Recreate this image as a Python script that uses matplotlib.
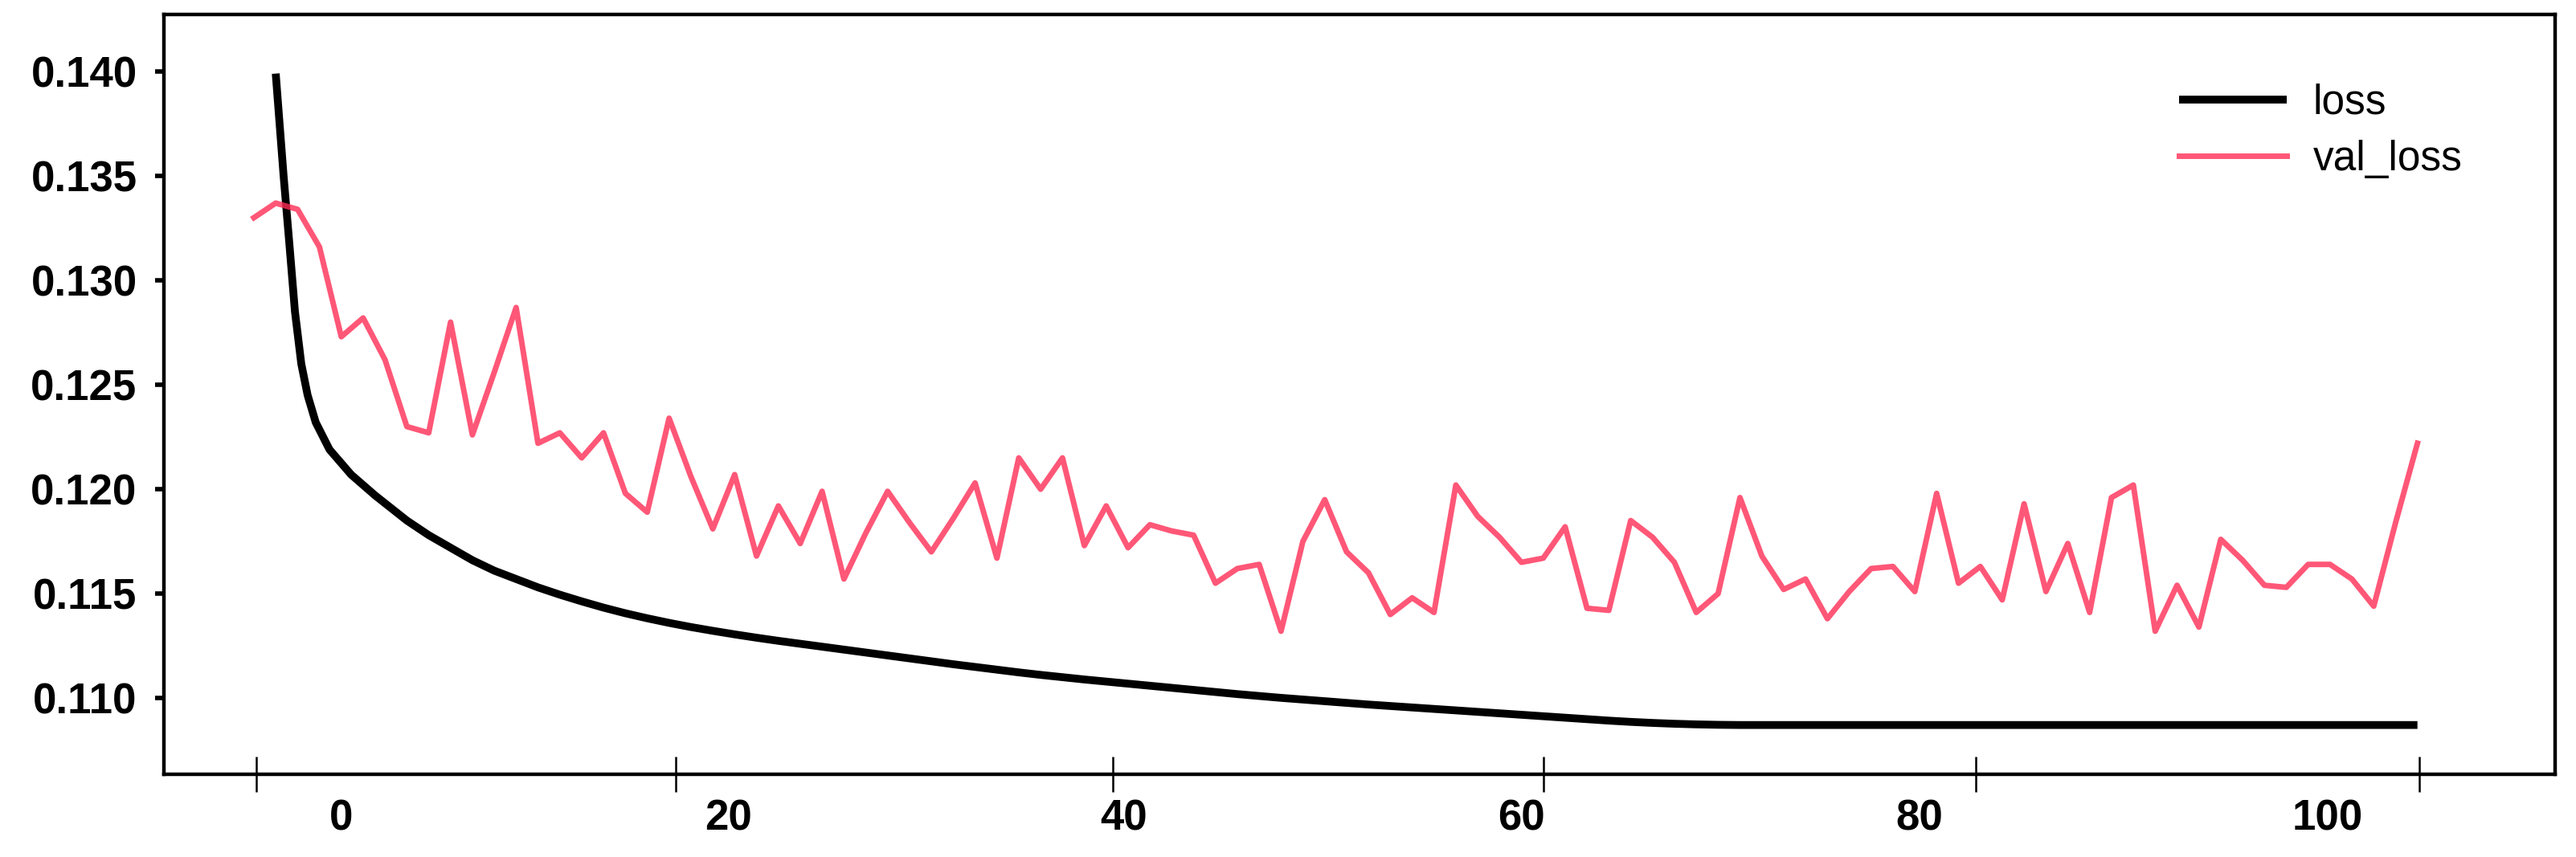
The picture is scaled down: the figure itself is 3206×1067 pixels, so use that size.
import matplotlib.pyplot as plt
import numpy as np

plt.rcParams['font.family'] = ['Liberation Sans', 'DejaVu Sans']

# validation loss, one value per epoch
epochs_val = list(range(0, 100))
val_loss = [0.1330, 0.1337, 0.1334, 0.1316, 0.1273, 0.1282, 0.1262, 0.1230, 0.1227, 0.1280,
            0.1226, 0.1256, 0.1287, 0.1222, 0.1227, 0.1215, 0.1227, 0.1198, 0.1189, 0.1234,
            0.1206, 0.1181, 0.1207, 0.1168, 0.1192, 0.1174, 0.1199, 0.1157, 0.1179, 0.1199,
            0.1184, 0.1170, 0.1186, 0.1203, 0.1167, 0.1215, 0.1200, 0.1215, 0.1173, 0.1192,
            0.1172, 0.1183, 0.1180, 0.1178, 0.1155, 0.1162, 0.1164, 0.1132, 0.1175, 0.1195,
            0.1170, 0.1160, 0.1140, 0.1148, 0.1141, 0.1202, 0.1187, 0.1177, 0.1165, 0.1167,
            0.1182, 0.1143, 0.1142, 0.1185, 0.1177, 0.1165, 0.1141, 0.1150, 0.1196, 0.1168,
            0.1152, 0.1157, 0.1138, 0.1151, 0.1162, 0.1163, 0.1151, 0.1198, 0.1155, 0.1163,
            0.1147, 0.1193, 0.1151, 0.1174, 0.1141, 0.1196, 0.1202, 0.1132, 0.1154, 0.1134,
            0.1176, 0.1166, 0.1154, 0.1153, 0.1164, 0.1164, 0.1157, 0.1144, 0.1184, 0.1222]

# training loss (read more densely over the steep start)
epochs_loss = [1, 1.36, 1.62, 1.88, 2.17, 2.46, 2.83, 3.46, 4.45, 5.55] + list(range(7, 100))
loss = [0.1399, 0.1350, 0.1318, 0.1285, 0.1260, 0.1245, 0.1232, 0.1219, 0.1207, 0.1197,
        0.1185, 0.1178, 0.1172, 0.1166, 0.1161, 0.1157, 0.11530, 0.11495, 0.11463, 0.11433,
        0.11406, 0.11382, 0.11360, 0.11340, 0.11322, 0.11305, 0.11289, 0.11274, 0.11260, 0.11246,
        0.11232, 0.11218, 0.11204, 0.11190, 0.11176, 0.11162, 0.11149, 0.11136, 0.11123, 0.11111,
        0.11100, 0.11089, 0.11079, 0.11069, 0.11059, 0.11049, 0.11039, 0.11029, 0.11019, 0.11010,
        0.11001, 0.10993, 0.10985, 0.10977, 0.10969, 0.10962, 0.10955, 0.10948, 0.10941, 0.10934,
        0.10927, 0.10920, 0.10913, 0.10906, 0.10899, 0.10892, 0.10886, 0.10881, 0.10877, 0.10874,
        0.10872, 0.10871, 0.10871, 0.10871, 0.10871, 0.10871, 0.10871, 0.10871, 0.10871, 0.10871,
        0.10871, 0.10871, 0.10871, 0.10871, 0.10871, 0.10871, 0.10871, 0.10871, 0.10871, 0.10871,
        0.10871, 0.10871, 0.10871, 0.10871, 0.10871, 0.10871, 0.10871, 0.10871, 0.10871, 0.10871,
        0.10871, 0.10871, 0.10871]

# x axis: tick marks and their (offset) labels
tick_marks = [0.1, 19.3, 39.3, 59.0, 78.8, 99.1]
label_pos = [4.0, 21.7, 39.8, 58.0, 76.2, 94.9]
x_labels = ['0', '20', '40', '60', '80', '100']
y_ticks = [0.110, 0.115, 0.120, 0.125, 0.130, 0.135, 0.140]

fig = plt.figure(figsize=(32.06, 10.67), dpi=100)
ax = fig.add_axes([0.0636, 0.0965, 0.9283, 0.8866])

ax.plot(epochs_loss, loss, color='black', lw=7, label='loss', solid_capstyle='butt')
ax.plot(epochs_val, val_loss, color='#ff2d55', alpha=0.8, lw=5, label='val_loss')

ax.set_xlim(-4.12, 105.3)
ax.set_ylim(0.10635, 0.14273)

ax.set_yticks(y_ticks)
ax.set_yticklabels(['%.3f' % t for t in y_ticks], fontsize=38, fontweight='bold')
ax.tick_params(axis='y', length=8, width=4, pad=16)

ax.set_xticks(tick_marks)
ax.set_xticklabels([''] * len(tick_marks))
ax.tick_params(axis='x', which='major', direction='inout', length=32, width=1.8)
ax.set_xticks(label_pos, minor=True)
ax.set_xticklabels(x_labels, minor=True, fontsize=38, fontweight='bold')
ax.tick_params(axis='x', which='minor', length=0, pad=22)

for s in ax.spines.values():
    s.set_linewidth(3.2)

ax.legend(frameon=False, loc='upper left', bbox_to_anchor=(0.8459, 0.903),
          bbox_transform=fig.transFigure, borderpad=0, borderaxespad=0,
          fontsize=37, handlelength=2.6, handletextpad=0.65, labelspacing=0.42)

plt.savefig('out.png', dpi=100)
